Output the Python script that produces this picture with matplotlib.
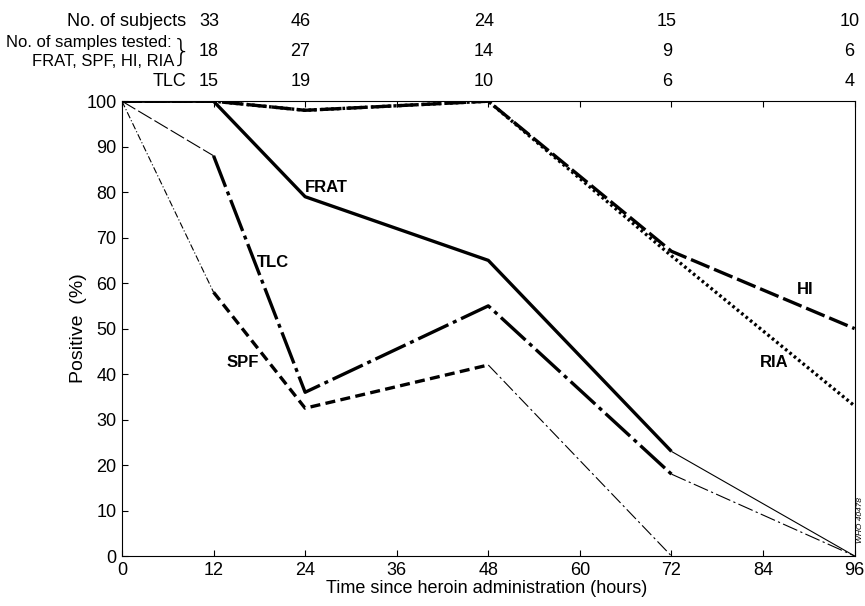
import numpy as np
import matplotlib.pyplot as plt
from matplotlib.transforms import blended_transform_factory

plt.rcParams['font.family'] = ['Liberation Sans', 'DejaVu Sans']

# time points (hours) and % positive for each test
hours = [0, 12, 24, 48, 72, 96]
frat = [100, 100, 79, 65, 23, 0]
spf = [100, 58, 32.5, 42, 0, 0]
tlc = [100, 88, 36, 55, 18, 0]
hi = [100, 100, 98, 100, 67, 50]
ria = [100, 100, 98, 100, 66, 33]

# counts shown above the chart
count_hours = [12, 24, 48, 72, 96]
n_subjects = [33, 46, 24, 15, 10]
n_samples = [18, 27, 14, 9, 6]
n_tlc = [15, 19, 10, 6, 4]

fig = plt.figure(figsize=(8.65, 6.06), dpi=100)
ax = fig.add_axes([0.141, 0.0825, 0.847, 0.7505])

thick = 2.4
thin = 0.8


def seg(y, i0, i1, **kw):
    ax.plot(hours[i0:i1 + 1], y[i0:i1 + 1], color='black',
            solid_capstyle='butt', dash_capstyle='butt', **kw)


# FRAT - solid
seg(frat, 0, 4, lw=thick, ls='-')
seg(frat, 4, 5, lw=thin, ls='-')
# SPF - dashed
seg(spf, 0, 1, lw=thin, ls=(0, (6, 2, 1, 2)))
seg(spf, 1, 3, lw=thick, ls=(0, (3, 1.6)))
seg(spf, 3, 4, lw=thin, ls=(0, (12, 3, 2, 3)))
# TLC - dash dot
seg(tlc, 0, 1, lw=thin, ls=(0, (14, 3)))
seg(tlc, 1, 4, lw=thick, ls=(0, (10, 1.5, 1.2, 1.5)))
seg(tlc, 4, 5, lw=thin, ls=(0, (14, 3, 2, 3)))
# HI - long dash
seg(hi, 0, 5, lw=thick, ls=(0, (6, 1.5)))
# RIA - dotted
seg(ria, 0, 5, lw=thick, ls=(0, (0.8, 0.9)))

lab = dict(fontsize=12, fontweight='bold', ha='center', va='center')
ax.text(26.8, 81, 'FRAT', **lab)
ax.text(19.8, 64.5, 'TLC', **lab)
ax.text(15.8, 42.5, 'SPF', **lab)
ax.text(89.5, 58.5, 'HI', **lab)
ax.text(85.5, 42.5, 'RIA', **lab)

ax.set_xlim(0, 96)
ax.set_ylim(0, 100)
ax.set_xticks(np.arange(0, 97, 12))
ax.set_yticks(np.arange(0, 101, 10))
ax.tick_params(direction='in', length=4, width=0.8, labelsize=13, pad=4,
               top=True)
for s in ax.spines.values():
    s.set_linewidth(0.8)

ax.set_xlabel('Time since heroin administration (hours)', fontsize=13)
ax.xaxis.set_label_coords(0.498, -0.053)
ax.set_ylabel('Positive  (%)', fontsize=14)
ax.yaxis.set_label_coords(-0.048, 0.5)

# header rows above plot
tr = blended_transform_factory(ax.transData, fig.transFigure)
rows = [(1 - 22 / 606, n_subjects), (1 - 51 / 606, n_samples),
        (1 - 82 / 606, n_tlc)]
for yy, vals in rows:
    for h, v in zip(count_hours, vals):
        ax.text(min(h - 0.6, 95.3), yy, str(v), transform=tr, ha='center',
                va='center', fontsize=13)

fig.text(186 / 865, 1 - 22 / 606, 'No. of subjects', ha='right',
         va='center', fontsize=13)
fig.text(172 / 865, 1 - 42 / 606, 'No. of samples tested:', ha='right',
         va='center', fontsize=12)
fig.text(174 / 865, 1 - 62 / 606, 'FRAT, SPF, HI, RIA', ha='right',
         va='center', fontsize=12)
fig.text(182 / 865, 1 - 52 / 606, '}', ha='center', va='center',
         fontsize=22, family='DejaVu Sans', fontweight='light')
fig.text(186 / 865, 1 - 82 / 606, 'TLC', ha='right', va='center',
         fontsize=13)
fig.text(861 / 865, 1 - 520 / 606, 'WHO 40478', rotation=90, ha='center',
         va='center', fontsize=6, style='italic')

fig.savefig('out.png', dpi=100, facecolor='white')
